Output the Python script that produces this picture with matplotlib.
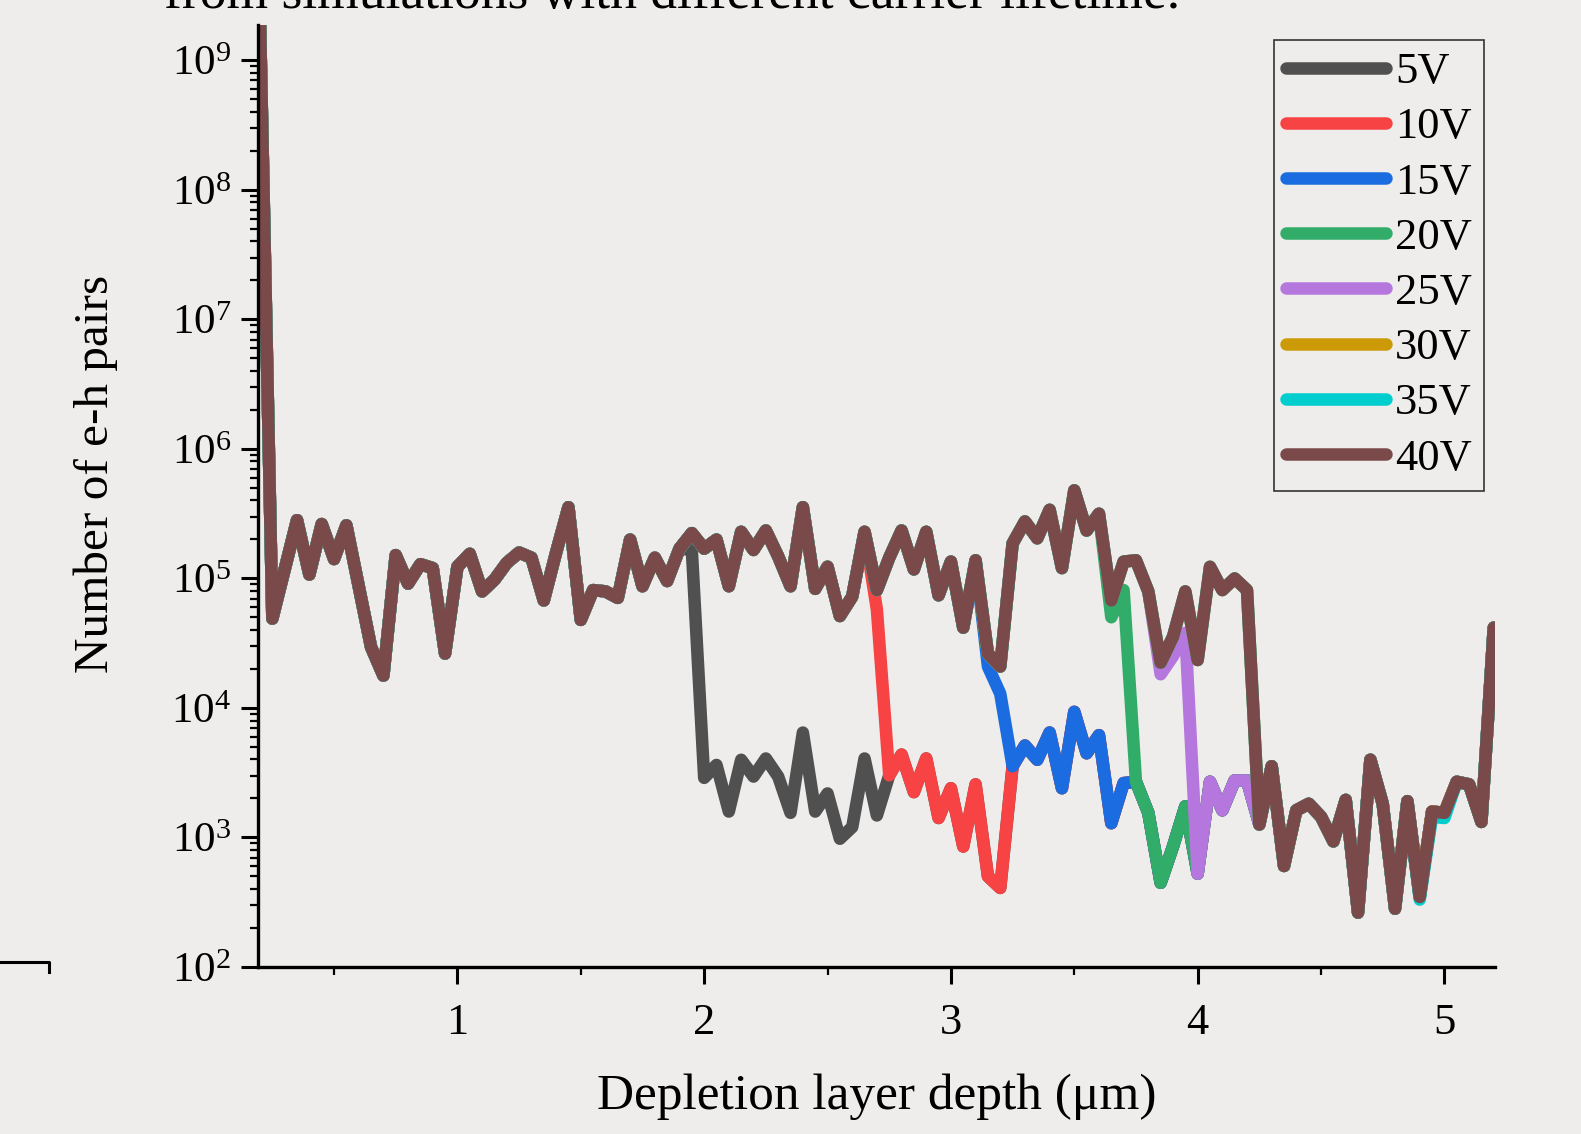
import numpy as np
import matplotlib.pyplot as plt
from matplotlib.lines import Line2D
from matplotlib.ticker import LogLocator, MultipleLocator, LogFormatterMathtext, NullFormatter

plt.rcParams['font.family'] = ['Liberation Serif', 'DejaVu Serif']
plt.rcParams['mathtext.fontset'] = 'custom'
plt.rcParams['mathtext.rm'] = 'Liberation Serif'
plt.rcParams['mathtext.it'] = 'Liberation Serif:italic'

BG = '#eeedeb'

# depth grid (um), one sample every 0.05 um
depth = np.linspace(0.2, 5.2, 101)

# log10(e-h pairs) of the shared upper curve, 0.20 - 4.20 um
high_log = [9.30, 4.69, 5.07, 5.45, 5.03, 5.42, 5.15, 5.41, 4.94, 4.47,
            4.25, 5.18, 4.96, 5.11, 5.08, 4.42, 5.09, 5.19, 4.90, 4.99,
            5.12, 5.20, 5.16, 4.83, 5.20, 5.55, 4.68, 4.91, 4.90, 4.85,
            5.30, 4.94, 5.16, 4.98, 5.23, 5.35, 5.23, 5.30, 4.94, 5.36,
            5.22, 5.37, 5.17, 4.94, 5.55, 4.92, 5.09, 4.71, 4.86, 5.36,
            4.91, 5.16, 5.37, 5.07, 5.36, 4.87, 5.13, 4.62, 5.14, 4.42,
            4.32, 5.27, 5.44, 5.31, 5.53, 5.08, 5.68, 5.37, 5.50, 4.83,
            5.13, 5.14, 4.90, 4.35, 4.55, 4.90, 4.37, 5.09, 4.91, 5.00,
            4.91]
# 40V after the drop, 4.25 - 5.20 um
tail_40v = [3.10, 3.55, 2.78, 3.21, 3.26, 3.16, 2.97, 3.29, 2.42, 3.60,
            3.26, 2.45, 3.28, 2.54, 3.20, 3.19, 3.43, 3.41, 3.12, 4.62]

# (first sample index, own values) of each lower-voltage branch
drop_35v = (94, [2.52, 3.16, 3.15])
drop_25v = (73, [4.26, 4.40, 4.58, 2.72, 3.43, 3.21, 3.44, 3.44])
drop_20v = (69, [4.70, 4.91, 3.43, 3.19, 2.65, 2.93, 3.24])
drop_15v = (59, [4.32, 4.11, 3.55, 3.71, 3.60, 3.81, 3.38, 3.97, 3.65, 3.79, 3.11, 3.42])
drop_10v = (50, [4.76, 3.48, 3.64, 3.35, 3.61, 3.15, 3.38, 2.93, 3.41, 2.70, 2.61])
drop_5v = (35, [5.22, 3.46, 3.56, 3.20, 3.60, 3.47, 3.61, 3.47, 3.19, 3.81, 3.20,
                3.34, 2.99, 3.08, 3.61, 3.17])

labels = ['5V', '10V', '15V', '20V', '25V', '30V', '35V', '40V']
colors = ['#505050', '#f74343', '#1a6ce0', '#31ad69', '#b577de', '#cc9a06', '#00cdcd', '#7a4a4a']

log_40 = np.array(high_log + tail_40v)


def branch(drop, joins):
    start, own = drop
    out = joins.copy()
    out[:start] = log_40[:start]
    out[start:start + len(own)] = own
    return out


log_35 = branch(drop_35v, log_40)
log_30 = log_40.copy()
log_25 = branch(drop_25v, log_40)
log_20 = branch(drop_20v, log_25)
log_15 = branch(drop_15v, log_20)
log_10 = branch(drop_10v, log_15)
log_5 = branch(drop_5v, log_10)
series = [log_5, log_10, log_15, log_20, log_25, log_30, log_35, log_40]

fig = plt.figure(figsize=(15.81, 11.34), dpi=100, facecolor=BG)
ax = fig.add_axes([0.1629, 0.1473, 0.7827, 0.8307], facecolor=BG)

for vals, lab, col in zip(series, labels, colors):
    ax.plot(depth, 10 ** vals, color=col, lw=9, label=lab,
            solid_joinstyle='round', solid_capstyle='round')

ax.set_yscale('log')
ax.set_xlim(0.19, 5.205)
ax.set_ylim(1e2, 10 ** 9.274)

ax.yaxis.set_major_locator(LogLocator(base=10, numticks=20))
ax.yaxis.set_minor_locator(LogLocator(base=10, subs=np.arange(2, 10), numticks=20))
ax.yaxis.set_major_formatter(LogFormatterMathtext())
ax.yaxis.set_minor_formatter(NullFormatter())
ax.xaxis.set_major_locator(MultipleLocator(1))
ax.xaxis.set_minor_locator(MultipleLocator(0.5))

for side in ['top', 'right']:
    ax.spines[side].set_visible(False)
for side in ['left', 'bottom']:
    ax.spines[side].set_linewidth(2.4)

ax.tick_params(which='major', direction='out', length=12, width=2.2, labelsize=31, color='black')
ax.tick_params(which='minor', direction='out', length=5.5, width=1.6)
ax.tick_params(axis='x', which='major', pad=14, labelsize=32)
ax.tick_params(axis='y', which='major', pad=7)

ax.set_xlabel('Depletion layer depth (\u03bcm)', fontsize=37)
ax.xaxis.set_label_coords(0.5, -0.113)
fig.text(0.0607, 0.582, 'Number of e-h pairs', fontsize=35.5, rotation=90,
         ha='center', va='center')

leg = ax.legend(loc='upper right', bbox_to_anchor=(1484 / 1581, 1 - 40 / 1134),
                bbox_transform=fig.transFigure, borderaxespad=0, fontsize=32,
                handlelength=2.25, handletextpad=0.2, labelspacing=0.34,
                borderpad=0.27, fancybox=False, framealpha=1)
leg.get_frame().set_facecolor('none')
leg.get_frame().set_edgecolor('#333333')
leg.get_frame().set_linewidth(1.2)

# caption fragment cut off at the top of the page
fig.text(164 / 1581, 1 - 8 / 1134, 'from simulations with different carrier lifetime.',
         fontsize=38.5, ha='left', va='baseline')

# edge of the neighbouring panel, bottom left
fig.add_artist(Line2D([0, 49 / 1581, 49 / 1581], [1 - 962 / 1134, 1 - 962 / 1134, 1 - 972 / 1134],
                      transform=fig.transFigure, color='black', lw=2.2))

fig.savefig('out.png', dpi=100, facecolor=BG)
